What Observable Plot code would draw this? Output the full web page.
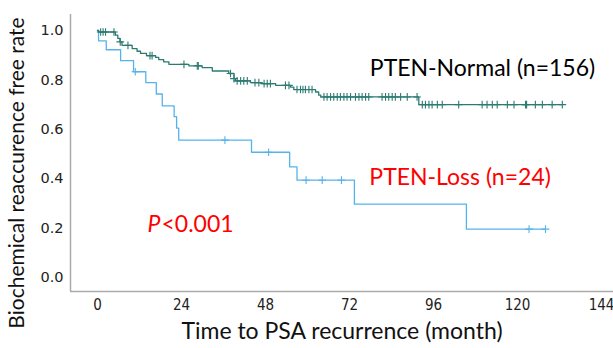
<!DOCTYPE html>
<html>
<head>
<meta charset="utf-8">
<script src="https://cdn.jsdelivr.net/npm/d3@7"></script>
<script src="https://cdn.jsdelivr.net/npm/@observablehq/plot@0.6"></script>
<style>
html,body{margin:0;padding:0;background:#fff;}
</style>
</head>
<body>
<div id="chart"></div>
<script>
// PTEN-Normal (n=156): event step times (months) and survival after each step
const normalTimes = [0, 0.3, 5.1, 5.8, 6.4, 7.0, 9.9, 11.3, 12.3, 14.0, 16.6, 17.5, 18.9, 20.4, 26.1, 29.9, 32.8, 37.5, 39.0, 39.4, 43.7, 47.0, 50.9, 55.1, 56.1, 62.3, 63.2, 63.8, 91.8];
const normalSurv  = [1.0, 0.994, 0.981, 0.968, 0.954, 0.940, 0.927, 0.916, 0.907, 0.898, 0.891, 0.882, 0.873, 0.863, 0.857, 0.850, 0.836, 0.826, 0.805, 0.796, 0.789, 0.785, 0.778, 0.771, 0.761, 0.751, 0.738, 0.731, 0.700];
const normalEnd = 132.8;
const normalCensored = [0.9, 1.6, 2.3, 4.7, 6.5, 8.7, 15.0, 15.6, 24.7, 28.5, 28.8, 38.0, 39.0, 39.9, 40.9, 41.8, 42.8, 45.0, 46.1, 47.6, 48.5, 49.4, 53.7, 54.7, 57.0, 58.0, 58.7, 59.4, 60.4, 61.3,
  64.7, 65.6, 66.6, 67.5, 68.5, 69.4, 70.4, 71.3, 72.3, 73.7, 74.7, 75.6, 76.6, 77.5, 81.3, 82.3, 83.2, 84.2, 85.1, 86.6, 88.5, 91.3,
  92.8, 93.7, 94.7, 95.6, 97.1, 98.5, 103.2, 109.9, 111.3, 112.8, 114.2, 117.1, 119.0, 122.3, 122.6, 125.1, 127.1, 129.9, 132.8];

// PTEN-Loss (n=24)
const lossTimes = [0, 0.3, 2.5, 6.6, 10.3, 13.8, 16.8, 18.5, 21.9, 22.6, 23.2, 44.0, 54.9, 57.0, 73.4, 105.4];
const lossSurv  = [1.0, 0.958, 0.922, 0.878, 0.833, 0.789, 0.743, 0.695, 0.651, 0.605, 0.556, 0.507, 0.448, 0.394, 0.297, 0.196];
const lossEnd = 128.0;
const lossCensored = [10.8, 36.4, 48.9, 59.6, 64.2, 69.7, 123.3, 128.0];

const xTicks = [0, 24, 48, 72, 96, 120, 144];
const yTicks = [0, 0.2, 0.4, 0.6, 0.8, 1.0];

const labels = [
  {t: 110, v: 0.847, text: "PTEN-Normal (n=156)", color: "#000000"},
  {t: 103.6, v: 0.405, text: "PTEN-Loss (n=24)", color: "#ff0000"}
];
const pLabel = {t: 18.0, v: 0.215, p: "P", rest: "<0.001"};

const xTitle = "Time to PSA recurrence (month)";
const yTitle = "Biochemical reaccurence free rate";

const colNormal = "#2c7b72";
const colLoss = "#55b3ea";

function stepPath(times, surv, end) {
  const pts = times.map((t, i) => ({t, v: surv[i]}));
  pts.push({t: end, v: surv[surv.length - 1]});
  return pts;
}
function survAt(times, surv, t) {
  let v = surv[0];
  for (let i = 0; i < times.length; i++) if (times[i] <= t) v = surv[i];
  return v;
}
const normalPath = stepPath(normalTimes, normalSurv, normalEnd);
const lossPath = stepPath(lossTimes, lossSurv, lossEnd);
const normalCens = normalCensored.map(t => ({t, v: survAt(normalTimes, normalSurv, t)}));
const lossCens = lossCensored.map(t => ({t, v: survAt(lossTimes, lossSurv, t)}));

const W = 613, H = 348;
const mL = 70, mR = 0, mT = 14, mB = 57;
const xLo = (mL - 97) / 3.5, xHi = (W - mR - 97) / 3.5;
const yPer = 247;
const yLo = (277 - (H - mB)) / yPer, yHi = (277 - mT) / yPer;

const chart = Plot.plot({
  width: W, height: H,
  marginLeft: mL, marginRight: mR, marginTop: mT, marginBottom: mB,
  style: {fontFamily: "DejaVu Sans", background: "#fff"},
  x: {domain: [xLo, xHi], label: null, axis: null},
  y: {domain: [yLo, yHi], label: null, axis: null},
  marks: [
    Plot.axisX({ticks: xTicks, tickSize: 0, tickPadding: 8, label: null, fontSize: 15, fontFamily: "DejaVu Sans Condensed", fill: "#222"}),
    Plot.axisY({ticks: yTicks, tickSize: 0, tickPadding: 7, label: null, tickFormat: d3.format(".1f"), fontSize: 14.5, fill: "#222"}),
    Plot.ruleX([xLo], {stroke: "#aaaaaa", strokeWidth: 1.5}),
    Plot.ruleY([yLo], {stroke: "#aaaaaa", strokeWidth: 1.5}),
    Plot.line(lossPath, {x: "t", y: "v", curve: "step-after", stroke: colLoss, strokeWidth: 1.3}),
    Plot.line(normalPath, {x: "t", y: "v", curve: "step-after", stroke: colNormal, strokeWidth: 1.3}),
    Plot.dot(lossCens, {x: "t", y: "v", symbol: "plus", r: 2.6, stroke: colLoss, strokeWidth: 1.1}),
    Plot.dot(normalCens, {x: "t", y: "v", symbol: "plus", r: 2.6, stroke: colNormal, strokeWidth: 1.1}),
    Plot.text(labels, {x: "t", y: "v", text: "text", fill: "color", fontSize: 23, fontFamily: "Lato", textAnchor: "middle"}),
    Plot.text([pLabel], {x: "t", y: "v", text: "p", fill: "#ff0000", fontSize: 23, fontFamily: "Lato", fontStyle: "italic", textAnchor: "end"}),
    Plot.text([pLabel], {x: "t", y: "v", text: "rest", fill: "#ff0000", fontSize: 23, fontFamily: "Lato", textAnchor: "start", dx: 1}),
    Plot.text([xTitle], {frameAnchor: "bottom", textAnchor: "middle", lineAnchor: "middle", dy: 40, text: d => d, fontSize: 23, fontFamily: "Lato", fill: "#111"}),
    Plot.text([yTitle], {frameAnchor: "left", textAnchor: "middle", lineAnchor: "middle", dx: -53, dy: 20, text: d => d, rotate: -90, fontSize: 21, fontFamily: "Lato", fill: "#111"})
  ]
});
document.getElementById("chart").appendChild(chart);
</script>
</body>
</html>
